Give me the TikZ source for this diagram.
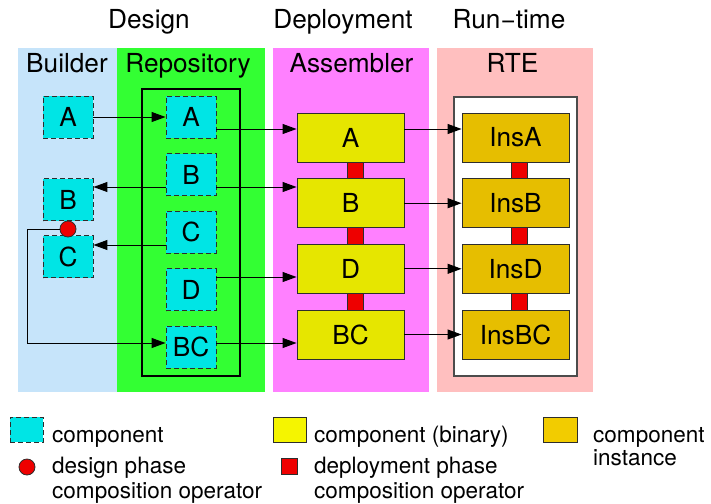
\documentclass[tikz,border=0pt]{standalone}
\usepackage{fontspec}
\setmainfont{TeX Gyre Heros}
\usetikzlibrary{arrows.meta,calc}
\definecolor{bbg}{RGB}{198,228,250}
\definecolor{gbg}{RGB}{51,255,51}
\definecolor{mbg}{RGB}{255,128,255}
\definecolor{pbg}{RGB}{255,191,191}
\definecolor{cyanc}{RGB}{0,229,229}
\definecolor{yelc}{RGB}{230,230,0}
\definecolor{yell}{RGB}{245,245,0}
\definecolor{golc}{RGB}{230,190,0}
\definecolor{goll}{RGB}{242,204,0}
\definecolor{redc}{RGB}{238,0,0}
\definecolor{edgec}{RGB}{45,45,45}
\begin{document}
\begin{tikzpicture}[x=1pt,y=-1pt,
 big/.style={font=\fontsize{26.2}{30}\selectfont},
 leg/.style={font=\fontsize{22.5}{26}\selectfont, anchor=base west, inner sep=0pt},
 head/.style={big, anchor=base, inner sep=0pt},
 comp/.style={draw=edgec, dash pattern=on 5pt off 3pt, fill=cyanc, minimum width=50pt, minimum height=42pt, inner sep=0pt, line width=0.9pt, big},
 bin/.style={draw=edgec, fill=yelc, minimum width=107pt, minimum height=49pt, inner sep=0pt, line width=0.9pt, big},
 inst/.style={bin, fill=golc},
 dop/.style={draw=edgec, fill=redc, minimum width=16pt, minimum height=16.7pt, inner sep=0pt, line width=0.8pt},
 dot/.style={circle, draw=edgec, fill=redc, minimum size=16pt, inner sep=0pt, line width=0.8pt},
 arr/.style={line width=1pt, -{Triangle[length=14pt,width=10pt]}}
]
\useasboundingbox (0,0) rectangle (711,503);
% panels
\fill[bbg] (18,48) rectangle (117,392);
\fill[gbg] (117,48) rectangle (265,392);
\fill[mbg] (273,48) rectangle (429,392);
\fill[pbg] (437,48) rectangle (593,392);
\draw[line width=1.5pt] (142,89) rectangle (240,376);
\draw[fill=white, draw=gray!60!black, line width=1.2pt] (454,97) rectangle (577,376);
% headings
\node[head] (hDes) at (149,29) {Design};
\node[head] (hDep) at (343,29) {Deployment};
\node[head] (hRun) at (509,29) {Run−time};
\node[head] (hBui) at (67,72) {Builder};
\node[head] (hRep) at (188,72) {Repository};
\node[head] (hAss) at (351.5,72) {Assembler};
\node[head] (hRTE) at (512.5,72) {RTE};
% builder
\node[comp] (bA) at (68,117) {A};
\node[comp] (bB) at (68,199.5) {B};
\node[comp] (bC) at (68,256.5) {C};
\node[dot] (dot) at (68,229) {};
% repository
\node[comp] (rA) at (191,117) {A};
\node[comp] (rB) at (191,174.5) {B};
\node[comp] (rC) at (191,232) {C};
\node[comp] (rD) at (191,289.5) {D};
\node[comp] (rBC) at (191,347) {BC};
% assembler
\node[bin] (aA) at (350.5,137.5) {A};
\node[bin] (aB) at (350.5,203.2) {B};
\node[bin] (aD) at (350.5,268.8) {D};
\node[bin] (aBC) at (350.5,334.5) {BC};
\node[dop] (o1) at ($(aA.south)!0.5!(aB.north)+(4.5,0)$) {};
\node[dop] (o2) at ($(aB.south)!0.5!(aD.north)+(4.5,0)$) {};
\node[dop] (o3) at ($(aD.south)!0.5!(aBC.north)+(4.5,0)$) {};
% RTE
\node[inst] (iA) at (515.5,137.5) {InsA};
\node[inst] (iB) at (515.5,203.2) {InsB};
\node[inst] (iD) at (515.5,268.8) {InsD};
\node[inst] (iBC) at (515.5,334.5) {InsBC};
\node[dop] (p1) at ($(iA.south)!0.5!(iB.north)+(3.5,0)$) {};
\node[dop] (p2) at ($(iB.south)!0.5!(iD.north)+(3.5,0)$) {};
\node[dop] (p3) at ($(iD.south)!0.5!(iBC.north)+(3.5,0)$) {};
% connectors
\coordinate (k) at (27,300);
\draw[arr] (bA.east) -- (rA.west);
\draw[arr] ([yshift=-12.5pt]rB.west) -- ([yshift=-12.5pt]rB.west -| bB.east);
\draw[arr] ([yshift=-13pt]rC.west) -- ([yshift=-13pt]rC.west -| bC.east);
\draw[arr] (dot.west) -- (dot.west -| k) |- ([yshift=4pt]rBC.west);
\draw[arr] ([yshift=-12pt]rA.east) -- ([yshift=-12pt]rA.east -| aA.west);
\draw[arr] ([yshift=-12.5pt]rB.east) -- ([yshift=-12.5pt]rB.east -| aB.west);
\draw[arr] ([yshift=12.5pt]rD.west -| rD.east) -- ([yshift=12.5pt]rD.west -| aD.west);
\draw[arr] ([yshift=4pt]rBC.east) -- ([yshift=4pt]rBC.east -| aBC.west);
\draw[arr] ([yshift=8.5pt]aA.east) -- ([yshift=8.5pt]aA.east -| iA.west);
\draw[arr] (aB.east) -- (iB.west);
\draw[arr] (aD.east) -- (iD.west);
\draw[arr] (aBC.east) -- (iBC.west);
% legend
\node[comp, minimum width=33pt, minimum height=25pt] (lc) at (26.5,429.5) {};
\node[leg] (lct) at (52,442) {component};
\node[dot] (ld) at (27,467) {};
\node[leg] (ldt1) at (52,473) {design phase};
\node[leg] (ldt2) at (52,498) {composition operator};
\node[bin, fill=yell, minimum width=33pt, minimum height=25pt] (lb) at (289.5,429.5) {};
\node[leg] (lbt) at (314,442) {component (binary)};
\node[dop, minimum height=16pt] (lo) at (289,466) {};
\node[leg] (lot1) at (314,473) {deployment phase};
\node[leg] (lot2) at (314,498) {composition operator};
\node[inst, fill=goll, minimum width=34pt, minimum height=25pt] (li) at (560,429.5) {};
\node[leg] (lit1) at (593,442) {component};
\node[leg] (lit2) at (593,465) {instance};
\end{tikzpicture}
\end{document}
